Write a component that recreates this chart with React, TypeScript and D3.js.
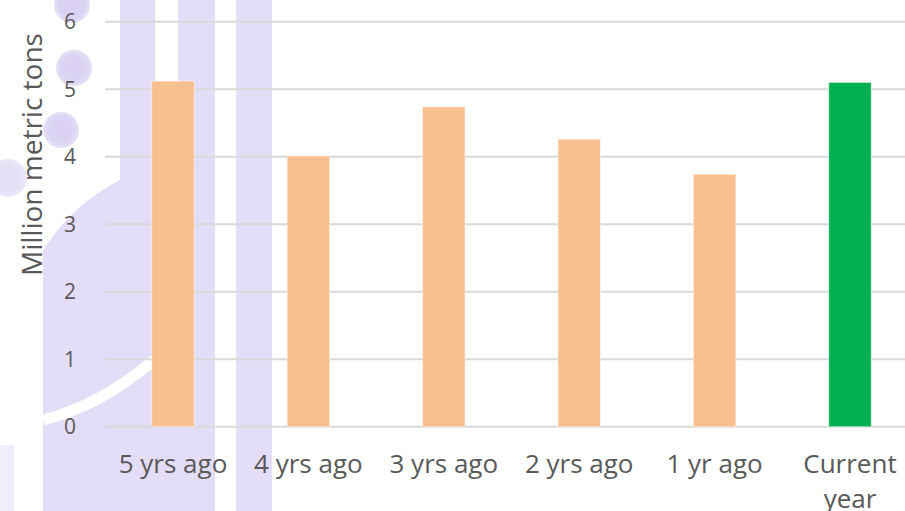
import React from "react";
import * as d3 from "d3";

const categories = ["5 yrs ago", "4 yrs ago", "3 yrs ago", "2 yrs ago", "1 yr ago", "Current year"];
const values = [5.12, 4.01, 4.74, 4.26, 3.74, 5.1];
const barColors = ["#f8bf8f", "#f8bf8f", "#f8bf8f", "#f8bf8f", "#f8bf8f", "#00b050"];
const yTicks = [0, 1, 2, 3, 4, 5, 6];
const yTitle = "Million metric tons";

const W = 905;
const H = 511;
const LAV = "#e4ddf7";

export default function App() {
  const y = d3.scaleLinear().domain([0, 6]).range([426.7, 21.7]);
  const x = d3
    .scaleBand<string>()
    .domain(categories)
    .range([105.3, 917.7])
    .paddingInner(0.686)
    .paddingOuter(0.343);
  const font = "'Open Sans', sans-serif";
  return (
    <svg
      width={W}
      height={H}
      style={{ position: "absolute", left: 0, top: 0, background: "#fff" }}
    >
      <defs>
        <clipPath id="bigclip">
          <rect x={43} y={0} width={172} height={511} />
        </clipPath>
        <radialGradient id="dot">
          <stop offset="0%" stopColor="#d9d0f2" />
          <stop offset="70%" stopColor="#dcd4f3" />
          <stop offset="100%" stopColor="#e6e0f7" />
        </radialGradient>
      </defs>
      {/* watermark */}
      <g>
        <rect x={120} y={0} width={35} height={300} fill={LAV} />
        <rect x={178} y={0} width={37} height={511} fill={LAV} />
        <rect x={236} y={0} width={36} height={511} fill={LAV} />
        <g clipPath="url(#bigclip)">
          <circle cx={205} cy={350} r={190} fill={LAV} />
          <rect x={43} y={380} width={172} height={131} fill={LAV} />
        </g>
        <path d="M 43 420 Q 100 406 154 360" fill="none" stroke="#fff" strokeWidth={11} />
        <circle cx={72} cy={5} r={18} fill="url(#dot)" />
        <circle cx={74} cy={68} r={18} fill="url(#dot)" />
        <circle cx={61} cy={130} r={18} fill="url(#dot)" />
        <circle cx={8} cy={178} r={19} fill="url(#dot)" opacity={0.7} />
        <rect x={0} y={445} width={14} height={66} fill={LAV} opacity={0.5} />
      </g>
      {/* gridlines */}
      {yTicks.map((t) => (
        <line
          key={t}
          x1={105}
          x2={W}
          y1={y(t)}
          y2={y(t)}
          stroke="#d9d9d9"
          strokeWidth={2}
        />
      ))}
      {/* y tick labels */}
      {yTicks.map((t) => (
        <text
          key={"l" + t}
          x={76}
          y={y(t) + 7.5}
          textAnchor="end"
          fontFamily={font}
          fontSize={21}
          fill="#595959"
        >
          {t}
        </text>
      ))}
      {/* y title */}
      <text
        transform={`translate(42,154.5) rotate(-90)`}
        textAnchor="middle"
        fontFamily={font}
        fontSize={28}
        fill="#595959"
      >
        {yTitle}
      </text>
      {/* bars */}
      {categories.map((c, i) => (
        <rect
          key={c}
          x={x(c)}
          y={y(values[i])}
          width={x.bandwidth()}
          height={y(0) - y(values[i])}
          fill={barColors[i]}
          stroke="rgba(255,255,255,0.5)"
          strokeWidth={1}
        />
      ))}
      {/* x labels */}
      {categories.map((c) => {
        const cx = (x(c) as number) + x.bandwidth() / 2;
        const lines = c === "Current year" ? ["Current", "year"] : [c];
        return (
          <text
            key={"x" + c}
            x={cx}
            y={473}
            textAnchor="middle"
            fontFamily={font}
            fontSize={26}
            fill="#595959"
          >
            {lines.map((l, j) => (
              <tspan key={j} x={cx} dy={j === 0 ? 0 : 35}>
                {l}
              </tspan>
            ))}
          </text>
        );
      })}
    </svg>
  );
}
